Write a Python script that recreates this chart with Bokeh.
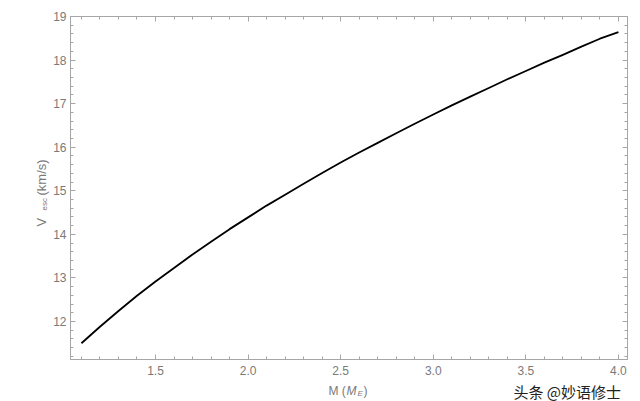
import math
from bokeh.plotting import figure
from bokeh.layouts import row, column
from bokeh.models import (LinearAxis, Label, Range1d, SingleIntervalTicker,
                          PrintfTickFormatter, CustomJSTickFormatter)
from bokeh.embed import file_html
from bokeh.resources import INLINE

mass = [1.1, 1.2, 1.3, 1.4, 1.5, 1.6, 1.7, 1.8, 1.9, 2.0,
        2.1, 2.2, 2.3, 2.4, 2.5, 2.6, 2.7, 2.8, 2.9, 3.0,
        3.1, 3.2, 3.3, 3.4, 3.5, 3.6, 3.7, 3.8, 3.9, 4.0]
v_esc = [11.50, 11.88, 12.24, 12.59, 12.92, 13.23, 13.54, 13.83, 14.12, 14.39,
         14.66, 14.91, 15.16, 15.41, 15.65, 15.88, 16.10, 16.32, 16.54, 16.75,
         16.96, 17.16, 17.36, 17.56, 17.75, 17.94, 18.12, 18.31, 18.49, 18.64]

FRAME = "#a6a6a6"
LABEL = "#7a7a7a"
FONT = "Liberation Sans"

LEFT_W = 50
MAIN_W, MAIN_H = 590, 380
BOTTOM_H = 21

# ---------------- main plot ----------------
p = figure(width=MAIN_W, height=MAIN_H, x_range=Range1d(1.041, 4.049), y_range=Range1d(11.128, 19.0),
           output_backend="svg", toolbar_location=None,
           min_border_left=20, min_border_right=13, min_border_top=16, min_border_bottom=21)
p.grid.visible = False
p.outline_line_color = FRAME
p.background_fill_color = "white"
p.border_fill_color = "white"

p.xaxis.ticker = SingleIntervalTicker(interval=0.5, num_minor_ticks=5)
p.yaxis.ticker = SingleIntervalTicker(interval=1, num_minor_ticks=5)
p.xaxis.formatter = PrintfTickFormatter(format="%.1f")


def style(ax):
    ax.axis_line_color = FRAME
    ax.major_tick_line_color = FRAME
    ax.minor_tick_line_color = FRAME
    ax.major_tick_in = 5
    ax.major_tick_out = 0
    ax.minor_tick_in = 3
    ax.minor_tick_out = 0
    ax.major_label_text_color = LABEL
    ax.major_label_text_font = FONT
    ax.major_label_text_font_size = "12px"


for ax in p.xaxis:
    style(ax)
    ax.major_label_standoff = 6
for ax in p.yaxis:
    style(ax)
    ax.major_label_standoff = 4

for loc, tk in (("above", SingleIntervalTicker(interval=0.5, num_minor_ticks=5)),
                ("right", SingleIntervalTicker(interval=1, num_minor_ticks=5))):
    ax = LinearAxis(ticker=tk, formatter=CustomJSTickFormatter(code="return '';"))
    style(ax)
    ax.major_label_standoff = 0
    p.add_layout(ax, loc)

p.line(mass, v_esc, line_color="black", line_width=1.8, line_join="round")


# ---------------- label strips ----------------
def strip(w, h):
    s = figure(width=w, height=h, x_range=Range1d(0, 1), y_range=Range1d(0, 1),
               output_backend="svg", toolbar_location=None, min_border=0)
    s.axis.visible = False
    s.grid.visible = False
    s.outline_line_color = None
    s.background_fill_color = "white"
    s.border_fill_color = "white"
    return s


def lab(fig, text, x, y, size, angle=0.0, italic=False, color=LABEL, font=FONT):
    fig.add_layout(Label(x=x, y=y, x_units="canvas", y_units="canvas",
                         text=text, text_font=font, text_font_size=size, text_color=color,
                         text_font_style="italic" if italic else "normal",
                         text_align="left", text_baseline="middle", angle=angle))


left = strip(LEFT_W, MAIN_H + BOTTOM_H)
rot = math.pi / 2
lab(left, "V", 41, 226, "13px", angle=rot)
lab(left, "esc", 44, 210, "8px", angle=rot)
lab(left, "(km/s)", 41, 195, "13px", angle=rot)

bottom = strip(MAIN_W, BOTTOM_H)
lab(bottom, "M (", 278, 10, "12px")
lab(bottom, "M", 296, 10, "12px", italic=True)
lab(bottom, "E", 307, 13, "8px", italic=True)
lab(bottom, ")", 313, 10, "12px")
lab(bottom, "头条 @妙语修士", 463, 11, "15px", color="#222222", font="Noto Sans CJK SC")

layout = row(left, column(p, bottom, spacing=0), spacing=0)
open("out.html", "w").write(file_html(layout, INLINE))
